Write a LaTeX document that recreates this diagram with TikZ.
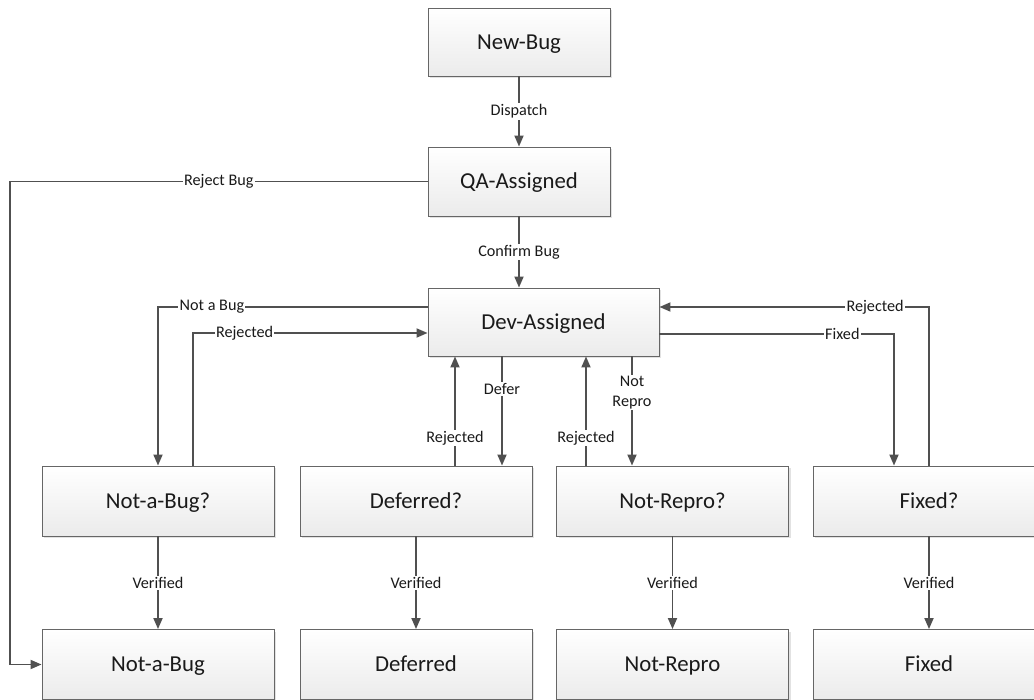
\documentclass[tikz,border=0pt]{standalone}
\usepackage{fontspec}
\setmainfont{Carlito}
\usetikzlibrary{arrows.meta,shadows}
\definecolor{linec}{HTML}{505050}
\definecolor{boxb}{HTML}{666666}
\definecolor{boxbot}{HTML}{EBEBEB}
\definecolor{txt}{HTML}{1A1A1A}
\tikzset{
  state/.style={draw=boxb, line width=0.9pt, top color=white, bottom color=boxbot,
    minimum width=232pt, minimum height=70pt, inner sep=0pt, text=txt,
    font=\fontsize{22.8}{27}\selectfont, text height=17pt, text depth=2.3pt,
    drop shadow={shadow xshift=2pt, shadow yshift=-2pt, opacity=0.25, fill=black!45}},
  conn/.style={draw=linec, line width=1.8pt, -{Triangle[length=11pt,width=9pt]}},
  lbl/.style={fill=white, inner sep=1.2pt, text=txt, font=\fontsize{16.2}{20}\selectfont}
}
\begin{document}
\begin{tikzpicture}[x=1pt,y=-1pt]
\useasboundingbox (0,0) rectangle (1034,700);
% boxes
\node[state, minimum width=182pt, minimum height=68pt] (new) at (519,42) {New-Bug};
\node[state, minimum width=182pt, minimum height=69pt] (qa) at (519,181.5) {QA-Assigned};
\node[state, minimum width=231pt, minimum height=68pt] (dev) at (543.5,322) {Dev-Assigned};
\node[state] (nabq) at (158,501) {Not-a-Bug?};
\node[state] (defq) at (416,501) {Deferred?};
\node[state] (nrq) at (672.5,501) {Not-Repro?};
\node[state] (fxq) at (929,501) {Fixed?};
\node[state] (nab) at (158,664.5) {Not-a-Bug};
\node[state] (def) at (416,664.5) {Deferred};
\node[state] (nr) at (672.5,664.5) {Not-Repro};
\node[state] (fx) at (929,664.5) {Fixed};
% connectors
\draw[conn] (new) -- node[lbl]{Dispatch} (qa);
\draw[conn] (qa.south) -- node[lbl]{Confirm Bug} (qa.south |- dev.north);
\coordinate (rb) at (10,181.5);
\draw[conn] (qa.west) -- node[lbl]{Reject Bug} (rb) |- (nab.west);
\draw[conn] ([yshift=15pt]dev.west) -| node[lbl,pos=0.4]{Not a Bug} (nabq.north);
\draw[conn] ([xshift=35pt]nabq.north) |- node[lbl,pos=0.61]{Rejected} ([yshift=-11pt]dev.west);
\draw[conn] ([xshift=39pt]defq.north) -- node[lbl,pos=0.25]{Rejected} ([xshift=39pt]defq.north |- dev.south);
\draw[conn] ([xshift=86pt]defq.north |- dev.south) -- node[lbl,pos=0.3]{Defer} ([xshift=86pt]defq.north);
\draw[conn] ([xshift=-86.5pt]nrq.north) -- node[lbl,pos=0.25]{Rejected} ([xshift=-86.5pt]nrq.north |- dev.south);
\draw[conn] ([xshift=-40.5pt]nrq.north |- dev.south) -- node[lbl,pos=0.33,align=center]{Not\\Repro} ([xshift=-40.5pt]nrq.north);
\draw[conn] ([yshift=-12pt]dev.east) -| node[lbl,pos=0.39]{Fixed} ([xshift=-35pt]fxq.north);
\draw[conn] (fxq.north) |- node[lbl,pos=0.6]{Rejected} ([yshift=15pt]dev.east);
\draw[conn] (nabq) -- node[lbl]{Verified} (nab);
\draw[conn] (defq) -- node[lbl]{Verified} (def);
\draw[conn] (nrq) -- node[lbl]{Verified} (nr);
\draw[conn] (fxq) -- node[lbl]{Verified} (fx);
\end{tikzpicture}
\end{document}
